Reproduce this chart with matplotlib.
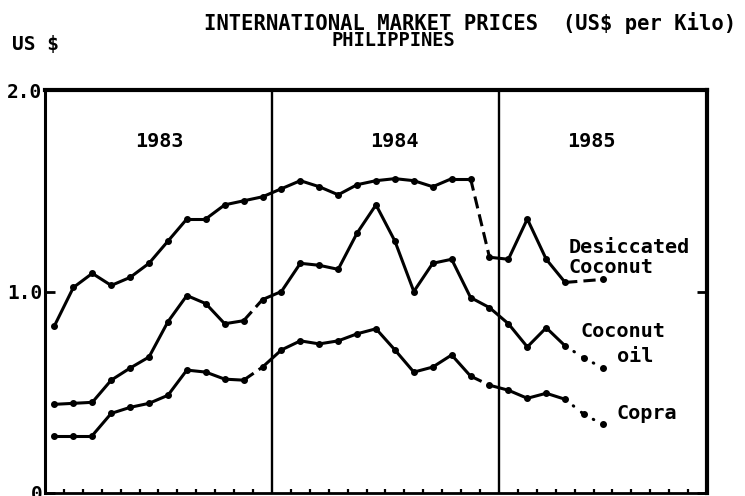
import matplotlib
matplotlib.use("Agg")
import matplotlib.pyplot as plt
import numpy as np

# ---------------- data ----------------
years = ["1983", "1984", "1985"]
month_index = list(range(30))          # Jan 1983 ... Jun 1985 (monthly)
n_months_axis = 35                     # axis spans 35 monthly slots

desiccated = [0.83, 1.02, 1.09, 1.03, 1.07, 1.14, 1.25, 1.36, 1.36, 1.43, 1.45, 1.47,
              1.51, 1.55, 1.52, 1.48, 1.53, 1.55, 1.56, 1.55, 1.52, 1.56, 1.56, 1.17,
              1.16, 1.36, 1.16, 1.045, np.nan, 1.06]
coconut_oil = [0.44, 0.445, 0.45, 0.56, 0.62, 0.675, 0.85, 0.98, 0.94, 0.84, 0.855, 0.96,
               1.00, 1.14, 1.13, 1.11, 1.29, 1.43, 1.25, 1.00, 1.14, 1.16, 0.97, 0.92,
               0.84, 0.725, 0.82, 0.73, 0.67, 0.62]
copra = [0.285, 0.285, 0.285, 0.395, 0.425, 0.445, 0.485, 0.61, 0.60, 0.565, 0.56, 0.625,
         0.71, 0.755, 0.74, 0.755, 0.79, 0.815, 0.71, 0.60, 0.625, 0.685, 0.58, 0.535,
         0.51, 0.47, 0.495, 0.465, 0.39, 0.34]

# segment styles (segment starting at index i): 'd' dashed, 'o' dotted, default solid
desiccated_breaks = {22: "d", 27: "d"}
coconut_oil_breaks = {10: "d", 27: "o", 28: "o"}
copra_breaks = {10: "d", 22: "d", 27: "o", 28: "o"}

ytick_vals = [0, 1.0, 2.0]
ytick_labels = ["0", "1.0", "2.0"]

# ---------------- figure ----------------
W, H = 745, 496
fig = plt.figure(figsize=(W / 100, H / 100), dpi=100)
ax_l, ax_r, ax_t, ax_b = 45, 707, 90, 493
ax = fig.add_axes([ax_l / W, 1 - ax_b / H, (ax_r - ax_l) / W, (ax_b - ax_t) / H])
ax.set_xlim(0, n_months_axis)
ax.set_ylim(0, 2.0)

FONT = "DejaVu Sans Mono"
LW = 2.2

styles = {"d": dict(linestyle=(0, (4, 2))),
          "o": dict(linestyle=(0, (0.2, 3.2)), dash_capstyle="round"),
          "s": dict(linestyle="-")}


def draw_series(vals, breaks):
    x = np.array(month_index) + 0.5
    y = np.array(vals, dtype=float)
    valid = [i for i in range(len(y)) if not np.isnan(y[i])]
    for a, b in zip(valid[:-1], valid[1:]):
        st = breaks.get(a, "s")
        ax.plot([x[a], x[b]], [y[a], y[b]], color="black", lw=LW,
                solid_capstyle="round", **styles[st])
    ax.plot(x[valid], y[valid], "o", color="black", ms=4.0, lw=0)


draw_series(desiccated, desiccated_breaks)
draw_series(coconut_oil, coconut_oil_breaks)
draw_series(copra, copra_breaks)

# year separators
for k in range(1, len(years)):
    ax.axvline(12 * k, color="black", lw=1.7)

# spines
for side, w in [("left", 2.2), ("top", 3.0), ("right", 3.0), ("bottom", 2.0)]:
    ax.spines[side].set_linewidth(w)
    ax.spines[side].set_color("black")

# ticks
minor = [m for m in range(1, n_months_axis) if m % 12 != 0]
ax.set_xticks(minor)
ax.set_xticklabels([])
ax.tick_params(axis="x", direction="in", length=3.2, width=1.6, bottom=True, top=False)
ax.set_yticks(ytick_vals)
ax.set_yticklabels(ytick_labels, fontfamily=FONT, fontweight="bold", fontsize=14)
ax.tick_params(axis="y", direction="in", length=7, width=2.0, left=True, right=True,
               pad=2)


def ftext(px, py, s, **kw):
    kw.setdefault("fontfamily", FONT)
    kw.setdefault("fontweight", "bold")
    kw.setdefault("fontsize", 14.5)
    kw.setdefault("va", "baseline")
    fig.text(px / W, 1 - py / H, s, color="black", **kw)


ftext(204, 30, "INTERNATIONAL MARKET PRICES  (US$ per Kilo)", fontsize=14.8)
ftext(393, 46, "PHILIPPINES", ha="center", fontsize=13.5)
ftext(12, 50, "US $", fontsize=14)

year_x = [159, 394, 591]
for yr, xp in zip(years, year_x):
    ftext(xp, 147, yr, ha="center")

ftext(569, 253, "Desiccated")
ftext(569, 273, "Coconut")
ftext(581, 337, "Coconut")
ftext(617, 362, "oil")
ftext(617, 419, "Copra")

fig.savefig("out.png", dpi=100)
